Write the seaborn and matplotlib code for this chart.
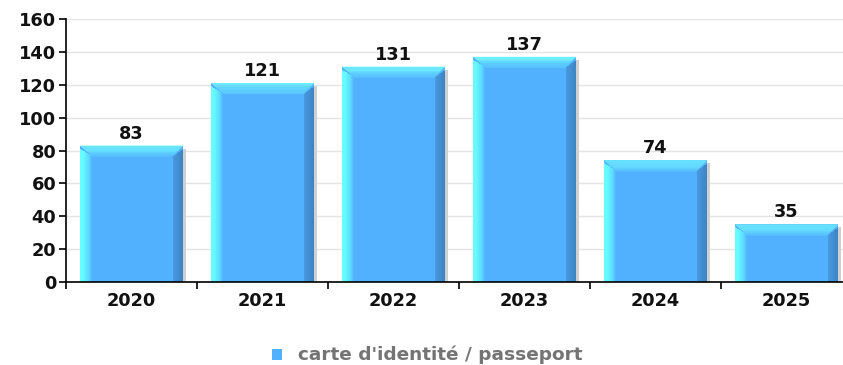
import matplotlib
matplotlib.use("Agg")
import matplotlib.pyplot as plt
from matplotlib.patches import Polygon, Rectangle
import seaborn as sns
import pandas as pd
import numpy as np

years = ["2020", "2021", "2022", "2023", "2024", "2025"]
counts = [83, 121, 131, 137, 74, 35]
series_name = "carte d'identité / passeport"

sns.set_theme(style="white")
plt.rcParams["font.family"] = ["DejaVu Sans"]
plt.rcParams["font.weight"] = "bold"

df = pd.DataFrame({"year": years, "count": counts})

fig = plt.figure(figsize=(8.43, 3.65), dpi=100)
W, H = 843, 365
ax = fig.add_axes([66 / W, 1 - 282 / H, (852 - 66) / W, (282 - 19) / H])

main = "#52b1fe"
FS = 12.8
sns.barplot(data=df, x="year", y="count", color=main, saturation=1,
            width=0.79, ax=ax, zorder=2, edgecolor="none")

ax.set_ylim(0, 160)
ax.set_xlim(-0.5, len(years) - 0.5)
ax.set_yticks(np.arange(0, 161, 20))
ax.yaxis.grid(True, color="#e4e4e4", linewidth=1, zorder=0)
ax.set_axisbelow(True)
for s in ["top", "right"]:
    ax.spines[s].set_visible(False)
for s in ["left", "bottom"]:
    ax.spines[s].set_color("black")
    ax.spines[s].set_linewidth(1.2)
ax.set_xlabel("")
ax.set_ylabel("")
ax.tick_params(axis="y", left=True, length=5, width=1.2, color="black",
               labelsize=FS, labelcolor="#111111", pad=2)
ax.set_xticks(np.arange(len(years)) - 0.5, minor=True)
ax.tick_params(axis="x", which="major", bottom=False, length=0, labelsize=FS,
               labelcolor="#111111", pad=7)
ax.tick_params(axis="x", which="minor", bottom=True, length=5, width=1.2,
               color="black")

# bevelled 3D look on each bar, bevel sizes in pixels
ext = ax.get_window_extent()
px_x = (len(years)) / ext.width      # data units per pixel, x
px_y = 160.0 / ext.height            # data units per pixel, y
cyan = np.array(matplotlib.colors.to_rgb("#66ffff"))
base = np.array(matplotlib.colors.to_rgb(main))
dark = np.array(matplotlib.colors.to_rgb("#3b84c4"))
mid_r = np.array(matplotlib.colors.to_rgb("#4a9be0"))
top_hi = np.array(matplotlib.colors.to_rgb("#72f6ff"))
top_lo = np.array(matplotlib.colors.to_rgb("#5ac6ff"))
for bar, val in zip(ax.patches, counts):
    x0 = bar.get_x()
    w = bar.get_width()
    h = bar.get_height()
    ex = 13 * px_x
    exr = 11 * px_x
    ey = 11 * px_y
    r = 3 * px_y
    # shadow on the right
    ax.add_patch(Rectangle((x0 + w, 0), 3 * px_x, h - 3 * px_y,
                           facecolor="#d0d0d0", edgecolor="none", zorder=1.9))
    # left bevel gradient
    n = 16
    for i in range(n):
        t = (i / (n - 1)) ** 1.8
        c = cyan * (1 - t) + base * t
        ax.add_patch(Rectangle((x0 + ex * i / n, 0), ex / n * 1.1,
                               h - ey * (i / n) - r * (1 - i / n),
                               facecolor=c, edgecolor="none", zorder=2.1))
    # right bevel gradient
    for i in range(n):
        t = i / (n - 1)
        c = mid_r * (1 - t) + dark * t if t > 0.05 else base
        xs = x0 + w - exr + exr * i / n
        ax.add_patch(Rectangle((xs, 0), exr / n * 1.1,
                               h - ey * (1 - i / n) - r * (i / n),
                               facecolor=c, edgecolor="none", zorder=2.1))
    # top bevel
    m = 10
    for j in range(m):
        t = j / (m - 1)
        c = top_hi * (1 - t) + top_lo * t
        y_hi = h - ey * j / m
        y_lo = h - ey * (j + 1) / m
        ax.add_patch(Polygon([(x0 + ex * (j + 1) / m, y_lo),
                              (x0 + w - exr * (j + 1) / m, y_lo),
                              (x0 + w - exr * j / m, y_hi),
                              (x0 + ex * j / m, y_hi)],
                             facecolor=c, edgecolor="none", zorder=2.2))
    ax.text(x0 + w / 2, h + 3 * px_y, str(val), ha="center", va="bottom",
            fontsize=FS, fontweight="bold", color="#111111", zorder=3)

# legend
fig.patches.append(Rectangle((272 / W, 1 - 360 / H), 10 / W, 11 / H,
                             transform=fig.transFigure, facecolor=main,
                             edgecolor="none"))
fig.text(298 / W, 1 - 355 / H, series_name, ha="left", va="center",
         fontsize=13.3, fontweight="bold", color="#747474")

fig.savefig("out.png", dpi=100)
